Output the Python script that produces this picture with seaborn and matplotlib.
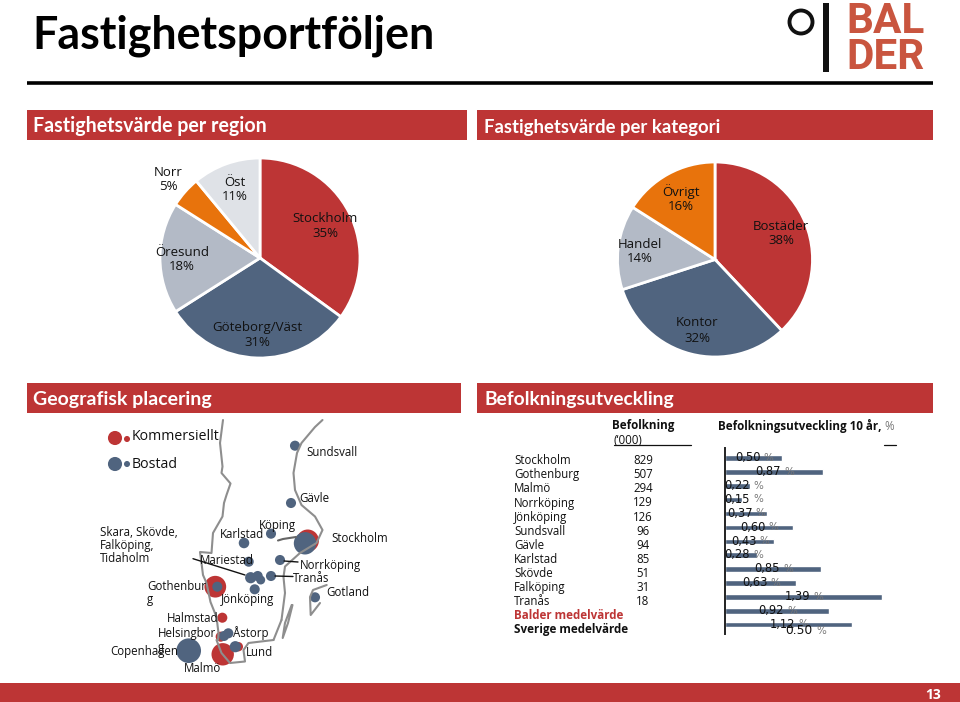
import matplotlib
matplotlib.use("Agg")
import matplotlib.pyplot as plt
from matplotlib.patches import Rectangle, Circle
import seaborn as sns
import pandas as pd

W, H = 960, 702
RED, NAVY, GREY, PALE, ORANGE = "#BD3535", "#50647F", "#B3BAC6", "#DFE2E7", "#E8730C"
FONT = "Open Sans"

# pies
region_names = ["Stockholm", "Göteborg/Väst", "Öresund", "Norr", "Öst"]
region_values = [35, 31, 18, 5, 11]
category_names = ["Bostäder", "Kontor", "Handel", "Övrigt"]
category_values = [38, 32, 14, 16]
region_colors = [RED, NAVY, GREY, ORANGE, PALE]
category_colors = [RED, NAVY, GREY, ORANGE]

# population table
cities = ["Stockholm", "Gothenburg", "Malmö", "Norrköping", "Jönköping", "Sundsvall",
          "Gävle", "Karlstad", "Skövde", "Falköping", "Tranås"]
population = [829, 507, 294, 129, 126, 96, 94, 85, 51, 31, 18]
bar_rows = cities + ["Balder medelvärde", "Sverige medelvärde"]
growth = [0.50, 0.87, 0.22, 0.15, 0.37, 0.60, 0.43, 0.28, 0.85, 0.63, 1.39, 0.92, 1.12]
sweden_note = "0.50"

# map points (pixel position on the map picture, radius)
red_x = [307.7, 215.3, 222.3, 220.7, 238.3, 222.7]
red_y = [540.7, 586.7, 617.7, 636.7, 646.7, 654.3]
red_r = [10, 9.7, 4.5, 4.5, 4.2, 10]
blue_x = [295, 291, 271, 244, 305, 248.7, 280, 271, 250.7, 257.7, 260.7, 254.7, 217.3, 224, 228.3, 235.3, 188.7, 315]
blue_y = [445.7, 503, 533.7, 543, 543.3, 561.7, 560, 576, 577.7, 576, 580, 589.3, 586.7, 636, 633.3, 646.7, 650.7, 597.3]
blue_r = [4.5, 4.5, 4.5, 4.7, 10, 4.5, 4.5, 4.5, 5, 4.5, 4, 4.5, 4.5, 4.5, 4.5, 5, 11, 4.5]

# map outline
west_x = [223, 220, 222.5, 221.5, 230.5, 226.5, 224, 222.5, 213, 211.5, 200, 201.5, 203, 206.5, 210.5, 216.5, 218.5, 218, 216.5, 221.5, 230, 245, 243.5, 248.5, 273.5, 281.5, 285, 283.5, 285, 300, 316.5, 322.5, 315, 301.5, 295, 293.5, 297, 301.5, 315, 322.5]
west_y = [420, 443, 466.5, 473, 483.5, 495, 503, 516.5, 533, 553, 552, 563, 575, 583, 602, 617, 633, 640, 640, 653, 663, 661.5, 650, 643, 640, 620, 593, 577, 566.5, 553, 543, 530, 516.5, 505, 490, 473, 453, 443, 427, 420]
gotland_x = [326.7, 313, 310, 310.7, 320]
gotland_y = [585, 590, 597, 615, 603]
oland_x = [291.7, 285, 282.7, 288, 292.5]
oland_y = [605, 623, 638, 623, 605]
lake_x = [278, 283, 296]
lake_y = [540.5, 539, 537]

# labels
map_labels = [("Sundsvall", 306, 452), ("Gävle", 299.5, 498), ("Köping", 259, 525), ("Karlstad", 220, 533),
              ("Stockholm", 331, 537), ("Skara, Skövde,", 100, 532), ("Falköping,", 100, 545), ("Tidaholm", 100, 558),
              ("Mariestad", 200, 559), ("Norrköping", 300, 565), ("Tranås", 293, 578), ("Gotland", 326, 592),
              ("Gothenbur", 147, 585), ("g", 147, 599), ("Jönköping", 221, 599), ("Halmstad", 167, 618),
              ("Helsingbor", 158, 632), ("g", 158, 646), ("Åstorp", 233, 632), ("Copenhagen", 110, 650),
              ("Lund", 246, 651), ("Malmö", 184, 667)]
region_pos = [(325, 218, 232.5), (257.5, 327, 341), (182, 251, 266), (168, 171, 186), (235, 182, 196)]
category_pos = [(781, 226, 240), (697, 322, 337), (640, 243, 258), (681, 191, 205)]

sns.set_theme(style="white")
plt.rcParams["font.family"] = [FONT, "DejaVu Sans"]
fig = plt.figure(figsize=(W / 100, H / 100), dpi=100, facecolor="white")


def px_axes(x0, y0, x1, y1, **kw):
    return fig.add_axes([x0 / W, 1 - y1 / H, (x1 - x0) / W, (y1 - y0) / H], **kw)


base = px_axes(0, 0, W, H)
base.set_xlim(0, W); base.set_ylim(H, 0); base.axis("off")

# bands
for x0, y0, x1, y1 in [(27, 110, 467, 140), (477, 110, 933, 140), (27, 383, 461, 412.5),
                       (477, 383, 933, 412.5), (0, 683, 960, 702)]:
    base.add_patch(Rectangle((x0, y0), x1 - x0, y1 - y0, fc=RED, ec="none"))
base.plot([27, 933], [83, 83], color="black", lw=2.6, solid_capstyle="butt")

# pies
for (cx, cy, r), vals, cols in [((260, 258, 100), region_values, region_colors),
                                ((715, 259.5, 97.5), category_values, category_colors)]:
    pa = px_axes(cx - r, cy - r, cx + r, cy + r)
    pa.pie(vals, colors=cols, startangle=90, counterclock=False, radius=1,
           wedgeprops=dict(edgecolor="white", linewidth=2))
    pa.set_xlim(-1, 1); pa.set_ylim(-1, 1)

# bars
bar = px_axes(725, 448, 725 + 113 * 1.6, 634)
bar.patch.set_alpha(0)
sns.barplot(data=pd.DataFrame({"g": growth, "c": bar_rows}), x="g", y="c", orient="h", color=NAVY,
            saturation=1, width=0.4, ax=bar)
bar.set_xlim(0, 1.6); bar.set_ylim(12.67, -0.72)
bar.set_xlabel(""); bar.set_ylabel(""); bar.set_xticks([]); bar.set_yticks([])
for s in ["top", "right", "bottom"]:
    bar.spines[s].set_visible(False)
bar.spines["left"].set_color("#222222"); bar.spines["left"].set_linewidth(1.4)
for i, v in enumerate(growth):
    mid = max(v / 2, 0.16)
    bar.text(mid + 0.062, i - 0.02, f"{v:.2f}".replace(".", ","), ha="right", va="center", fontsize=8.3,
             family="DejaVu Sans", color="#111111", zorder=5)
    bar.text(mid + 0.088, i - 0.02, "%", ha="left", va="center", fontsize=7.4, family="DejaVu Sans",
             color="#777777", zorder=5)

# overlay
ov = px_axes(0, 0, W, H)
ov.patch.set_alpha(0)
ov.set_xlim(0, W); ov.set_ylim(H, 0); ov.axis("off")


def T(x, y, s, size=9.5, color="#111111", ha="left", weight="normal", family=None):
    ov.text(x, y + 1, s, fontsize=size, color=color, ha=ha, va="center", fontweight=weight,
            family=family or [FONT, "DejaVu Sans"])


T(32, 35, "Fastighetsportföljen", 32.2, "black", weight="bold", family="Lato")
T(33, 125, "Fastighetsvärde per region", 14.1, "white", weight="bold", family="Lato")
T(484, 127, "Fastighetsvärde per kategori", 13.3, "white", weight="bold", family="Lato")
T(33, 398, "Geografisk placering", 14, "white", weight="bold", family="Lato")
T(484, 398, "Befolkningsutveckling", 13.9, "white", weight="bold", family="Lato")
T(933, 694, "13", 10, "white", ha="center", weight="bold")

for (n, v, (x, y1, y2)) in zip(region_names, region_values, region_pos):
    T(x, y1, n, ha="center"); T(x, y2, f"{v}%", ha="center")
for (n, v, (x, y1, y2)) in zip(category_names, category_values, category_pos):
    T(x, y1, n, ha="center"); T(x, y2, f"{v}%", ha="center")

# map
ov.plot(west_x[:25], west_y[:25], color="#8E8E8E", lw=1.5)
ov.plot(west_x[25:], west_y[25:], color="#8E8E8E", lw=1.5)
ov.plot(west_x[24:26], west_y[24:26], color="#8E8E8E", lw=1.5)
ov.plot(gotland_x, gotland_y, color="#8E8E8E", lw=1.5)
ov.plot(oland_x, oland_y, color="#8E8E8E", lw=1.5)
ov.plot(lake_x, lake_y, color="#666666", lw=1.5)
for (a, b) in [((193, 245), (558.7, 575)), ((284, 298), (561, 562)), ((275, 293), (576, 576.5))]:
    ov.plot(a, b, color="#111111", lw=1)


def dots(xs, ys, rs, c):
    sns.scatterplot(x=xs, y=ys, s=[(r * 2 * 0.72 * 1.12) ** 2 for r in rs], color=c, linewidth=0, ax=ov, legend=False)


dots(red_x, red_y, red_r, RED)
dots(blue_x, blue_y, blue_r, NAVY)
dots([115, 127], [438, 439], [6.3, 2.7], RED)
dots([115, 127], [464, 464], [6.3, 2.7], NAVY)
ov.set_xlim(0, W); ov.set_ylim(H, 0); ov.axis("off")
T(131.5, 436, "Kommersiellt", 10.2)
T(131.5, 463, "Bostad", 10.2)
for s, x, y in map_labels:
    T(x, y, s, 8.3)

# table
T(612, 425, "Befolkning", 8.4, weight="bold")
T(613, 439, "(‘000)", 8.3)
ov.plot([614, 691], [444.5, 444.5], color="#111111", lw=0.9)
T(718, 425, "Befolkningsutveckling 10 år,", 8.4, weight="bold")
T(884, 425, "%", 8.3, "#777777")
ov.plot([884, 896], [444.5, 444.5], color="#111111", lw=0.9)
for i, (c, p) in enumerate(zip(cities, population)):
    y = 459.7 + 14.1 * i
    T(514, y, c, 8.3)
    T(643, y, str(p), 8.3, ha="center")
T(514, 459.7 + 14.1 * 11, "Balder medelvärde", 8.4, RED, weight="bold")
T(514, 459.7 + 14.1 * 12, "Sverige medelvärde", 8.4, "#111111", weight="bold")
ov.text(812, 630.5, sweden_note, fontsize=8.8, family="DejaVu Sans", color="#111111", ha="right", va="center")
ov.text(816, 630.5, "%", fontsize=7.4, family="DejaVu Sans", color="#777777", ha="left", va="center")

# logo
ov.add_patch(Circle((801, 22), 11.5, fc="none", ec="#111111", lw=2.8))
ov.add_patch(Rectangle((823, 3), 6, 69, fc="#111111", ec="none"))
T(846, 20.5, "BAL", 30.4, "#C9553F", weight="bold", family="Roboto")
T(846, 56.5, "DER", 30.4, "#C9553F", weight="bold", family="Roboto")

fig.savefig("out.png", dpi=100, facecolor="white")
